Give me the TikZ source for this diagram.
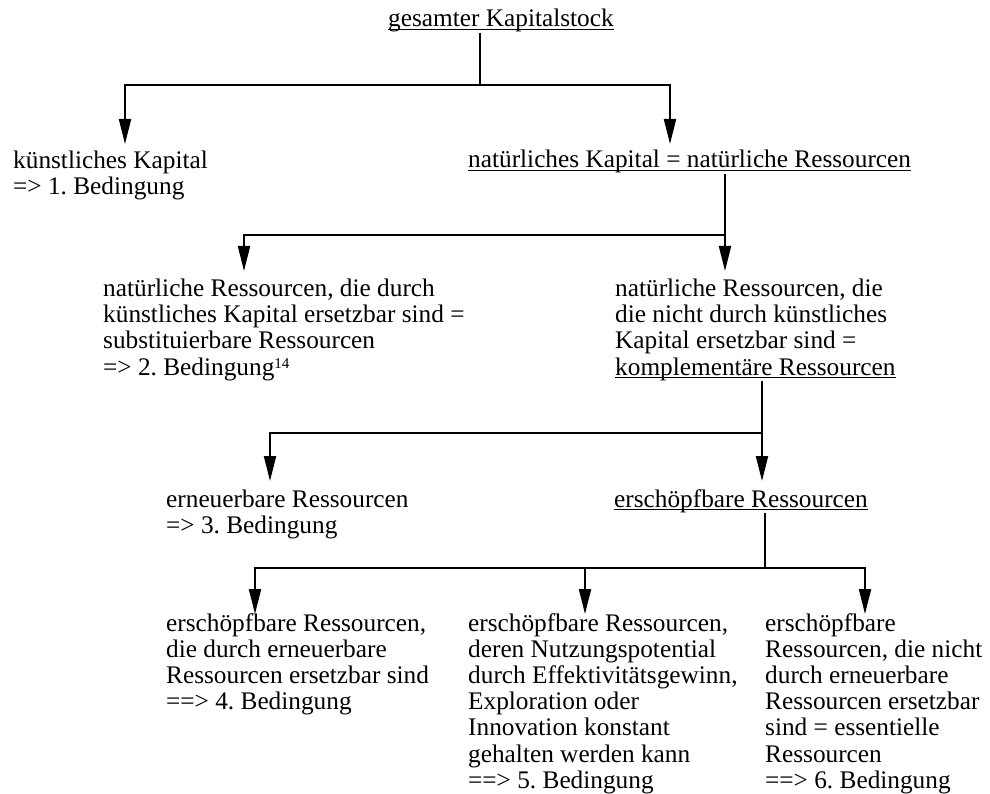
\documentclass[tikz,border=0pt]{standalone}
\usepackage{fontspec}
\setmainfont{Liberation Serif}
\usetikzlibrary{arrows.meta}
\frenchspacing
\newcommand\uln[1]{{\setbox0\hbox{#1}\rlap{\rule[-3.4pt]{\wd0}{1.3pt}}\box0}}
\newcommand\fnref[1]{\raisebox{6.5pt}{\fontsize{15}{15}\selectfont #1}}
\newcommand\diafont{\fontsize{25.3}{26.2}\selectfont\lineskiplimit-50pt\relax\frenchspacing}
\begin{document}
\begin{tikzpicture}[x=1pt,y=-1pt,
  txt/.style={anchor=base west, inner sep=0pt, align=left, font=\diafont},
  arr/.style={line width=2pt, -{Triangle[length=25pt,width=12pt]}}]
\useasboundingbox (0,0) rectangle (990,794);

% texts (anchor = baseline of the last line)
\node[txt] (gk) at (388,27) {\uln{gesamter Kapitalstock}};
\node[txt] (kk) at (13,195) {künstliches Kapital\\=> 1. Bedingung};
\node[txt] (nk) at (468,168) {\uln{natürliches Kapital = natürliche Ressourcen}};
\node[txt] (sub) at (103,375) {natürliche Ressourcen, die durch\\künstliches Kapital ersetzbar sind =\\substituierbare Ressourcen\\=> 2. Bedingung\fnref{14}};
\node[txt] (kom) at (615,375) {natürliche Ressourcen, die\\die nicht durch künstliches\\Kapital ersetzbar sind =\\\uln{komplementäre Ressourcen}};
\node[txt] (ern) at (166,533.2) {erneuerbare Ressourcen\\=> 3. Bedingung};
\node[txt] (ers) at (614,507) {\uln{erschöpfbare Ressourcen}};
\node[txt] (b1) at (166,709.6) {erschöpfbare Ressourcen,\\die durch erneuerbare\\Ressourcen ersetzbar sind\\==> 4. Bedingung};
\node[txt] (b2) at (468,788.2) {erschöpfbare Ressourcen,\\deren Nutzungspotential\\durch Effektivitätsgewinn,\\Exploration oder\\Innovation konstant\\gehalten werden kann\\==> 5. Bedingung};
\node[txt] (b3) at (765,788.2) {erschöpfbare\\Ressourcen, die nicht\\durch erneuerbare\\Ressourcen ersetzbar\\sind = essentielle\\Ressourcen\\==> 6. Bedingung};

% junctions and arrow tips
\coordinate (j0) at (480,85);
\coordinate (t1a) at (125,144);
\coordinate (t1b) at (670,144);
\coordinate (j1) at (725,235);
\coordinate (t2a) at (244,271);
\coordinate (t2b) at (725,271);
\coordinate (j2) at (762,433);
\coordinate (t3a) at (270,481);
\coordinate (t3b) at (762,481);
\coordinate (j3) at (765,568);
\coordinate (t4a) at (255,614);
\coordinate (t4b) at (585,614);
\coordinate (t4c) at (865,614);

% connectors
\draw[arr] (gk.south -| j0) -- (j0) -| (t1a);
\draw[arr] (j0) -| (t1b);
\draw[arr] (nk.south -| j1) -- (j1) -| (t2a);
\draw[arr] (j1) -- (t2b);
\draw[arr] (kom.south -| j2) -- (j2) -| (t3a);
\draw[arr] (j2) -- (t3b);
\draw[arr] (ers.south -| j3) -- (j3) -| (t4a);
\draw[arr] (j3) -| (t4b);
\draw[arr] (j3) -| (t4c);
\end{tikzpicture}
\end{document}
